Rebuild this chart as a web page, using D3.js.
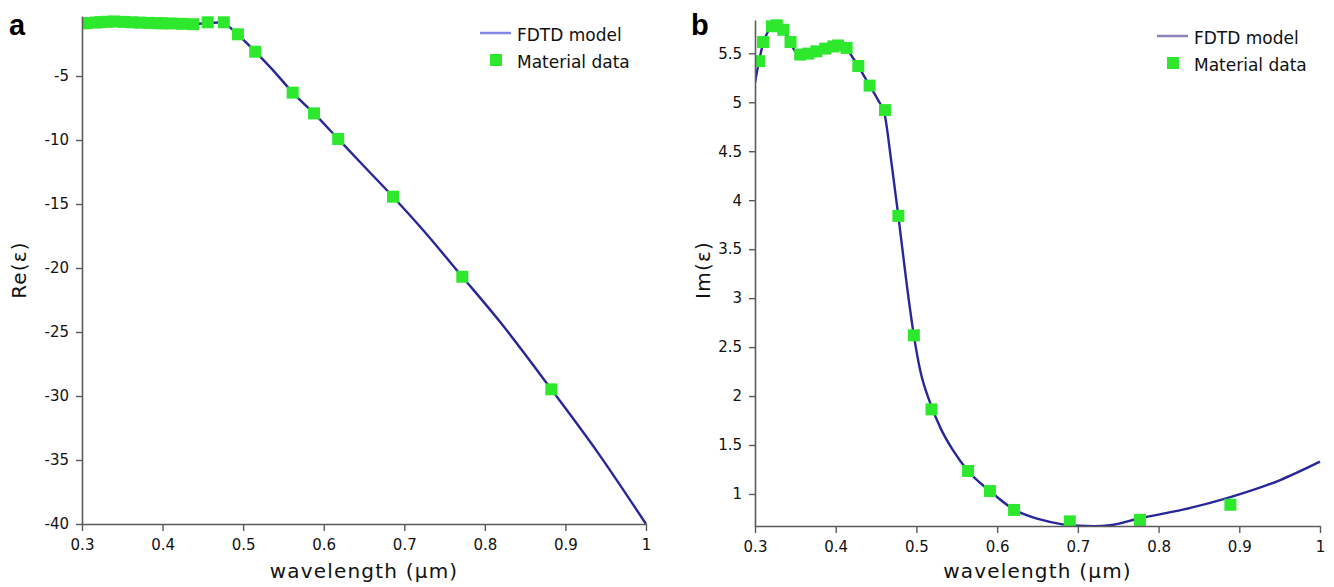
<!DOCTYPE html>
<html>
<head>
<meta charset="utf-8">
<script src="https://cdn.jsdelivr.net/npm/d3@7/dist/d3.min.js"></script>
<style>
  html, body { margin: 0; padding: 0; background: #ffffff; }
  svg { display: block; }
  .tick text { font-family: "DejaVu Sans", sans-serif; font-size: 15px; fill: #111; }
</style>
</head>
<body>
<svg id="chart" width="1334" height="587"></svg>
<script>
// ---------- Data ----------
// Panel a : Re(eps)
const waveA = [0.301, 0.306, 0.317, 0.323, 0.331, 0.340, 0.352, 0.362, 0.372, 0.383, 0.393, 0.399, 0.410, 0.424, 0.438, 0.456, 0.476, 0.4935, 0.515, 0.5615, 0.588, 0.618, 0.686, 0.772, 0.8825];
const reData = [-0.88, -0.86, -0.82, -0.79, -0.76, -0.74, -0.77, -0.80, -0.83, -0.85, -0.87, -0.88, -0.89, -0.92, -0.95, -0.80, -0.80, -1.74, -3.10, -6.30, -7.92, -9.92, -14.43, -20.68, -29.48];
const modelWaveA = [0.30, 0.32, 0.34, 0.36, 0.38, 0.40, 0.42, 0.44, 0.46, 0.47, 0.48, 0.4935, 0.50, 0.515, 0.54, 0.5615, 0.588, 0.618, 0.65, 0.686, 0.72, 0.772, 0.82, 0.8825, 0.94, 1.00];
const modelRe = [-0.88, -0.82, -0.75, -0.77, -0.83, -0.87, -0.89, -0.92, -0.85, -0.82, -1.05, -1.74, -2.15, -3.10, -4.75, -6.30, -7.92, -9.92, -12.05, -14.43, -16.80, -20.68, -24.30, -29.48, -34.40, -40.00];

// Panel b : Im(eps)
const waveB = [0.305, 0.310, 0.321, 0.327, 0.335, 0.344, 0.356, 0.366, 0.376, 0.387, 0.397, 0.403, 0.4135, 0.428, 0.442, 0.461, 0.4776, 0.4968, 0.5187, 0.564, 0.591, 0.621, 0.690, 0.777, 0.889];
const imData = [5.42, 5.615, 5.776, 5.786, 5.74, 5.615, 5.487, 5.497, 5.52, 5.548, 5.57, 5.58, 5.555, 5.37, 5.17, 4.92, 3.84, 2.62, 1.864, 1.235, 1.03, 0.837, 0.72, 0.735, 0.89];
const modelWaveB = [0.300, 0.305, 0.310, 0.316, 0.322, 0.328, 0.334, 0.340, 0.346, 0.352, 0.358, 0.366, 0.376, 0.387, 0.397, 0.405, 0.4135, 0.420, 0.428, 0.435, 0.442, 0.452, 0.461, 0.468, 0.4776, 0.488, 0.4968, 0.505, 0.517, 0.530, 0.545, 0.564, 0.591, 0.621, 0.653, 0.681, 0.700, 0.720, 0.740, 0.776, 0.830, 0.888, 0.950, 1.000];
const modelIm = [5.20, 5.42, 5.60, 5.72, 5.77, 5.78, 5.75, 5.67, 5.57, 5.50, 5.48, 5.50, 5.52, 5.55, 5.57, 5.58, 5.55, 5.47, 5.37, 5.27, 5.17, 5.03, 4.86, 4.45, 3.84, 3.14, 2.62, 2.25, 1.93, 1.67, 1.45, 1.235, 1.03, 0.84, 0.74, 0.69, 0.675, 0.67, 0.68, 0.75, 0.84, 0.966, 1.14, 1.33];

// Ticks
const xTicks = [0.3, 0.4, 0.5, 0.6, 0.7, 0.8, 0.9, 1.0];
const xTickLabels = ["0.3", "0.4", "0.5", "0.6", "0.7", "0.8", "0.9", "1"];
const yTicksA = [-5, -10, -15, -20, -25, -30, -35, -40];
const yTickLabelsA = ["-5", "-10", "-15", "-20", "-25", "-30", "-35", "-40"];
const yTicksB = [1, 1.5, 2, 2.5, 3, 3.5, 4, 4.5, 5, 5.5];
const yTickLabelsB = ["1", "1.5", "2", "2.5", "3", "3.5", "4", "4.5", "5", "5.5"];

const legendLabels = ["FDTD model", "Material data"];

// ---------- Drawing ----------
const svg = d3.select("#chart");
svg.append("rect").attr("width", 1334).attr("height", 587).attr("fill", "#fff");

const LINE_COLOR = "#27279a";
const MARK_COLOR = "#2ee82e";
const AXIS_COLOR = "#5a5a5a";

function panel(cfg) {
  const x = d3.scaleLinear().domain([0.3, 1.0]).range([cfg.x0, cfg.x1]);
  const y = d3.scaleLinear().domain(cfg.yDomain).range([cfg.yBottom, cfg.yTop]);

  const clipId = "clip" + cfg.id;
  svg.append("clipPath").attr("id", clipId)
    .append("rect").attr("x", cfg.x0).attr("y", 0)
    .attr("width", cfg.x1 - cfg.x0 + 4).attr("height", cfg.yBottom);

  const plot = svg.append("g").attr("clip-path", `url(#${clipId})`);

  const line = d3.line().x(d => x(d[0])).y(d => y(d[1])).curve(d3.curveMonotoneX);
  plot.append("path")
    .datum(d3.zip(cfg.modelX, cfg.modelY))
    .attr("d", line)
    .attr("fill", "none")
    .attr("stroke", LINE_COLOR)
    .attr("stroke-width", 2.4);

  const S = 12;
  plot.selectAll("rect.pt").data(d3.zip(cfg.dataX, cfg.dataY)).join("rect")
    .attr("class", "pt")
    .attr("x", d => x(d[0]) - S / 2)
    .attr("y", d => y(d[1]) - S / 2)
    .attr("width", S).attr("height", S)
    .attr("fill", MARK_COLOR);

  // Axes
  const xAxis = d3.axisBottom(x).tickValues(xTicks)
    .tickFormat((d, i) => xTickLabels[i]).tickSize(7).tickSizeOuter(0).tickPadding(8);
  const gx = svg.append("g").attr("transform", `translate(0,${cfg.yBottom})`).call(xAxis);
  const yAxis = d3.axisLeft(y).tickValues(cfg.yTicks)
    .tickFormat((d, i) => cfg.yTickLabels[i]).tickSize(6).tickSizeOuter(0).tickPadding(7);
  const gy = svg.append("g").attr("transform", `translate(${cfg.x0},0)`).call(yAxis);
  [gx, gy].forEach(g => {
    g.select(".domain").attr("stroke", AXIS_COLOR).attr("stroke-width", 1.6);
    g.selectAll(".tick line").attr("stroke", AXIS_COLOR).attr("stroke-width", 1.4);
  });

  // Axis titles
  svg.append("text")
    .attr("x", (cfg.x0 + cfg.x1) / 2).attr("y", 578)
    .attr("text-anchor", "middle")
    .style("font-family", "DejaVu Sans, sans-serif").style("font-size", "20px")
    .style("letter-spacing", "1.2px").attr("fill", "#111")
    .text("wavelength (μm)");
  svg.append("text")
    .attr("transform", `translate(${cfg.titleX},270) rotate(-90)`)
    .attr("text-anchor", "middle")
    .style("font-family", "DejaVu Sans, sans-serif").style("font-size", "20px")
    .style("letter-spacing", "1.2px").attr("fill", "#111")
    .text(cfg.yTitle);

  // Panel letter
  svg.append("text")
    .attr("x", cfg.letterX).attr("y", 35)
    .style("font-family", "Liberation Sans, Arial, sans-serif").style("font-size", "29px")
    .style("font-weight", "bold").attr("fill", "#000")
    .text(cfg.letter);

  // Legend
  const lg = svg.append("g");
  lg.append("line")
    .attr("x1", cfg.legX).attr("x2", cfg.legX + 31)
    .attr("y1", cfg.legY).attr("y2", cfg.legY)
    .attr("stroke", cfg.legLineColor).attr("stroke-width", 2.5);
  lg.append("rect")
    .attr("x", cfg.legX + 10).attr("y", cfg.legY + 27 - 6)
    .attr("width", 12).attr("height", 12).attr("fill", MARK_COLOR);
  legendLabels.forEach((t, i) => {
    lg.append("text")
      .attr("x", cfg.legX + 37).attr("y", cfg.legY + 8 + i * 27)
      .style("font-family", "DejaVu Sans, sans-serif").style("font-size", "17px")
      .attr("fill", "#111").text(t);
  });
}

panel({
  id: "a", x0: 82, x1: 646, yTop: 16, yBottom: 524, yDomain: [-40, -0.31],
  yTicks: yTicksA, yTickLabels: yTickLabelsA,
  dataX: waveA, dataY: reData, modelX: modelWaveA, modelY: modelRe,
  yTitle: "Re(ε)", titleX: 26, letter: "a", letterX: 9,
  legX: 480, legY: 33, legLineColor: "#8585e6"
});

panel({
  id: "b", x0: 755, x1: 1320, yTop: 20, yBottom: 526, yDomain: [0.673, 5.84],
  yTicks: yTicksB, yTickLabels: yTickLabelsB,
  dataX: waveB, dataY: imData, modelX: modelWaveB, modelY: modelIm,
  yTitle: "Im(ε)", titleX: 710, letter: "b", letterX: 691,
  legX: 1157, legY: 36, legLineColor: "#8a82b8"
});
</script>
</body>
</html>
